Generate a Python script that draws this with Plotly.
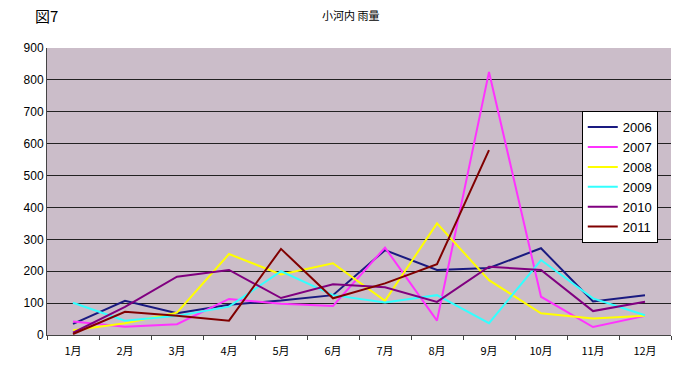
import plotly.graph_objects as go

months = ["1月", "2月", "3月", "4月", "5月", "6月", "7月", "8月", "9月", "10月", "11月", "12月"]
y2006 = [35, 107, 68, 95, 108, 125, 266, 204, 210, 272, 105, 125]
y2007 = [42, 26, 34, 113, 98, 91, 274, 45, 825, 120, 25, 60]
y2008 = [15, 37, 70, 254, 190, 225, 107, 350, 172, 68, 52, 60]
y2009 = [101, 45, 60, 89, 200, 125, 102, 125, 37, 235, 115, 62]
y2010 = [7, 88, 183, 204, 116, 159, 150, 104, 214, 204, 75, 104]
y2011 = [3, 73, 60, 45, 270, 115, 162, 222, 580]

series = [
    ("2006", y2006, "#1a1a80"),
    ("2007", y2007, "#ff33ff"),
    ("2008", y2008, "#ffff00"),
    ("2009", y2009, "#33ffff"),
    ("2010", y2010, "#800080"),
    ("2011", y2011, "#800000"),
]

fig = go.Figure()
for name, vals, col in series:
    fig.add_trace(go.Scatter(x=months[:len(vals)], y=vals, name=name, mode="lines",
                             line=dict(color=col, width=2)))

fig.update_layout(
    width=677, height=369,
    margin=dict(l=47, r=6, t=48, b=34),
    paper_bgcolor="white",
    plot_bgcolor="#cbbdc9",
    font=dict(family="Liberation Sans, Arial, sans-serif", size=12, color="black"),
    showlegend=True,
    legend=dict(x=0.857, y=0.78, xanchor="left", yanchor="top",
                bgcolor="white", bordercolor="black", borderwidth=1,
                font=dict(size=13, family="Liberation Sans, Arial"),
                tracegroupgap=0, itemwidth=30),
    annotations=[
        dict(text="図7", xref="paper", yref="paper", x=(33 - 47) / 624, y=1 + (48 - 15) / 287,
             showarrow=False, xanchor="left", yanchor="middle",
             font=dict(size=15, family="Noto Sans CJK JP")),
        dict(text="小河内 雨量", xref="paper", yref="paper", x=(350 - 47) / 624, y=1 + (48 - 15) / 287,
             showarrow=False, xanchor="center", yanchor="middle",
             font=dict(size=11, family="Noto Sans CJK JP")),
    ],
)

fig.update_xaxes(type="category", range=[-0.5, 11.5], showgrid=False,
                 ticks="outside", tickson="boundaries", ticklen=4, tickcolor="#444",
                 showline=True, linecolor="#444", linewidth=1, ticklabelstandoff=6,
                 tickfont=dict(family="Noto Sans CJK JP", size=11))
fig.update_yaxes(range=[0, 900], dtick=100, showgrid=True, gridcolor="#222", gridwidth=1,
                 ticks="", showline=True, linecolor="#444", linewidth=1,
                 zeroline=False, tickfont=dict(size=12))

fig.write_html("out.html")
